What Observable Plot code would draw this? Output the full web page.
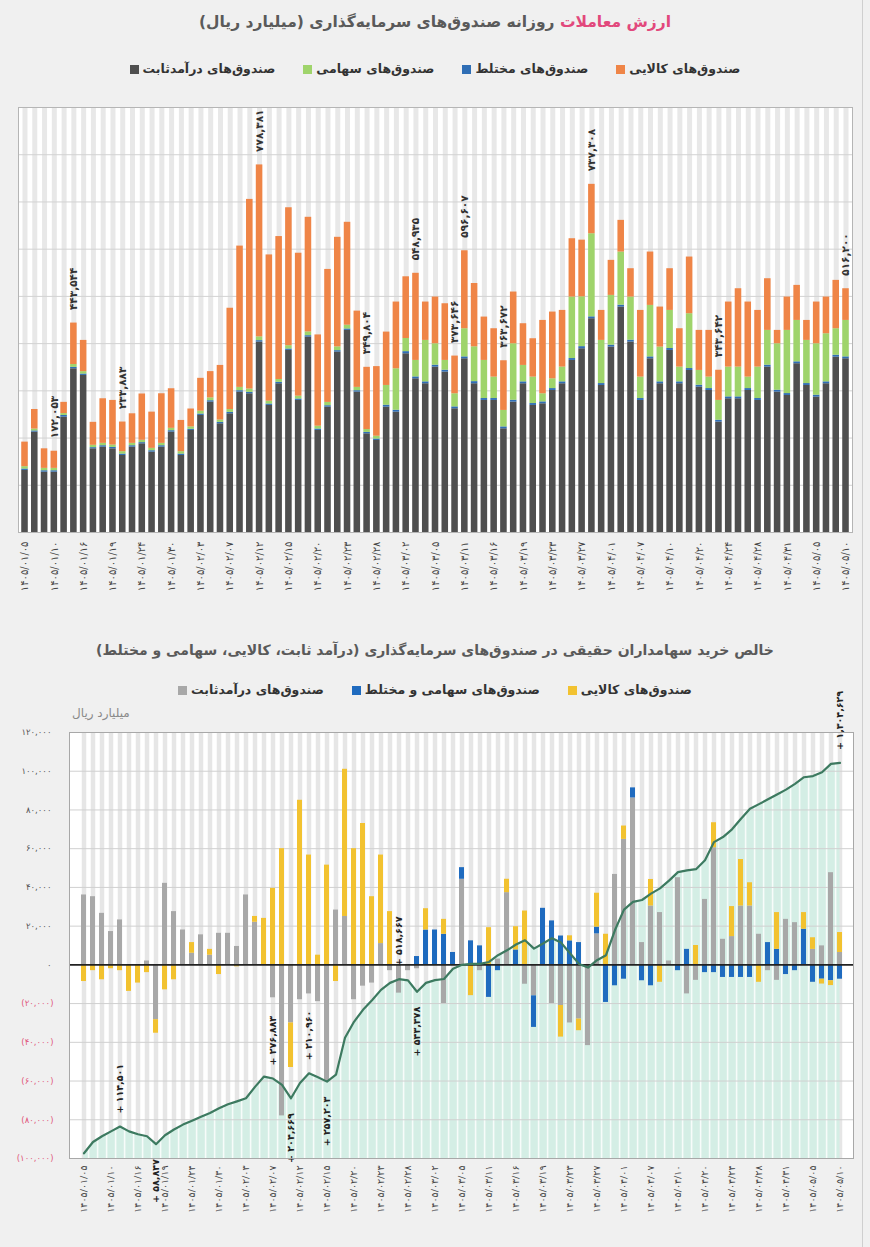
<!DOCTYPE html>
<html><head><meta charset="utf-8">
<script src="https://cdn.jsdelivr.net/npm/d3@7"></script>
<script src="https://cdn.jsdelivr.net/npm/@observablehq/plot@0.6"></script>
<style>
body{margin:0;background:#f0f0f0;font-family:"DejaVu Sans",sans-serif;}
#wrap{position:relative;width:870px;height:1247px;overflow:hidden;background:#f0f0f0;}
.edge{position:absolute;left:862px;top:0;width:1px;height:1247px;background:#cfcfcf;}
.title{position:absolute;left:0;width:870px;text-align:center;direction:rtl;font-weight:bold;color:#5a5a5a;white-space:nowrap;}
.legend{position:absolute;left:0;width:870px;display:flex;justify-content:center;direction:rtl;gap:28px;font-size:12.5px;font-weight:bold;color:#333;line-height:20px;}
.item{display:flex;align-items:center;gap:4px;}
.item i{width:9px;height:9px;display:inline-block;}
.unit{position:absolute;left:72px;top:706px;font-size:12px;color:#8a8a8a;direction:rtl;}
svg.fig{position:absolute;left:0;overflow:visible;}
</style></head>
<body><div id="wrap">
<div class="edge"></div>
<div class="title" style="top:9px;font-size:15.5px;line-height:26px;"><span style="color:#e2487c">ارزش معاملات</span> روزانه صندوق‌های سرمایه‌گذاری (میلیارد ریال)</div>
<div class="legend" style="top:59px;">
  <div class="item"><span>صندوق‌های کالایی</span><i style="background:#ef8547"></i></div>
  <div class="item"><span>صندوق‌های مختلط</span><i style="background:#2f6eb5"></i></div>
  <div class="item"><span>صندوق‌های سهامی</span><i style="background:#9fd46b"></i></div>
  <div class="item"><span>صندوق‌های درآمدثابت</span><i style="background:#4f4f4f"></i></div>
</div>
<div class="title" style="top:638px;font-size:14px;line-height:24px;">خالص خرید سهامداران حقیقی در صندوق‌های سرمایه‌گذاری (درآمد ثابت، کالایی، سهامی و مختلط)</div>
<div class="legend" style="top:680px;">
  <div class="item"><span>صندوق‌های کالایی</span><i style="background:#f2c230"></i></div>
  <div class="item"><span>صندوق‌های سهامی و مختلط</span><i style="background:#1f6bbf"></i></div>
  <div class="item"><span>صندوق‌های درآمدثابت</span><i style="background:#a8a8a8"></i></div>
</div>
<div class="unit">میلیارد ریال</div>
</div>
<script>
// ---------- shared ----------
const dateLabels = ["۱۴۰۵/۰۱/۰۵","۱۴۰۵/۰۱/۱۰","۱۴۰۵/۰۱/۱۶","۱۴۰۵/۰۱/۱۹","۱۴۰۵/۰۱/۲۴","۱۴۰۵/۰۱/۳۰","۱۴۰۵/۰۲/۰۳","۱۴۰۵/۰۲/۰۷","۱۴۰۵/۰۲/۱۲","۱۴۰۵/۰۲/۱۵","۱۴۰۵/۰۲/۲۰","۱۴۰۵/۰۲/۲۳","۱۴۰۵/۰۲/۲۸","۱۴۰۵/۰۳/۰۲","۱۴۰۵/۰۳/۰۵","۱۴۰۵/۰۳/۱۱","۱۴۰۵/۰۳/۱۶","۱۴۰۵/۰۳/۱۹","۱۴۰۵/۰۳/۲۳","۱۴۰۵/۰۳/۲۷","۱۴۰۵/۰۴/۰۱","۱۴۰۵/۰۴/۰۷","۱۴۰۵/۰۴/۱۰","۱۴۰۵/۰۴/۲۰","۱۴۰۵/۰۴/۲۴","۱۴۰۵/۰۴/۲۸","۱۴۰۵/۰۴/۳۱","۱۴۰۵/۰۵/۰۵","۱۴۰۵/۰۵/۱۰"];
const labelEvery = 3;
const dayCount = 85;

// ---------- top chart: daily trading value ----------
const topFixed = [131400,212600,127800,127800,244300,346700,332600,177200,180800,177200,
163100,180800,187800,170200,180800,212600,163100,216100,247900,276100,
230200,251400,297300,293800,403300,269100,315000,385600,279700,413800,
216100,265500,382100,428000,297300,209000,194900,265500,254900,378500,
325500,315000,350300,339700,262000,367900,315000,279700,279700,219600,
276100,315000,269100,272600,300800,315000,364400,389100,452700,311400,
392700,477400,403300,279700,367900,315000,385600,315000,343200,307900,
300800,233800,283200,283200,300800,279700,350300,297300,290200,357400,
311400,286700,315000,371400,367900];
const topMixed = [3000,2500,3000,3000,3500,3000,3000,2500,3000,3000,
3000,3000,2500,3000,3000,3000,3000,2500,3000,3000,
3000,3000,3000,3000,3000,3000,3000,3000,3000,3000,
3000,3000,3000,3000,3000,3000,3000,4000,4000,4500,
4000,4000,4000,4000,4000,4000,4500,4000,4000,4000,
4000,4000,4000,4000,4000,4000,4000,4500,4000,4000,
4000,4000,4000,4000,4000,4000,4000,4000,4000,4000,
4000,4000,4000,4000,4000,4000,4000,4000,4000,4000,
4000,4000,4000,4000,4000];
const topEquity = [5000,4000,5000,5000,4000,6000,5000,5000,5000,5000,
5000,5000,5000,5000,5000,5000,5000,5000,6000,6000,
5000,6000,7000,7000,8000,6000,6000,7000,6000,8000,
6000,7000,8000,8000,7000,6000,6000,41900,87800,27800,
34900,87800,45400,20700,27800,59600,73700,80700,45400,34900,
119600,34800,56000,17200,20700,31300,130200,105500,176000,91400,
105400,112500,91300,45400,109000,73700,80700,31300,116100,31300,
24300,41900,63100,63100,24300,66600,73700,98400,133800,87700,
91400,109000,101900,56100,77200];
const topCommodity = [52000,41400,41400,36300,23800,87800,66200,48600,94400,94500,
62800,62600,98000,76700,105000,83800,66200,37900,69600,55600,
115600,214500,299200,401600,364100,309700,302700,292100,302700,242700,
193300,281600,232000,217900,161500,131800,147400,113000,141300,130700,
184500,81200,98900,120000,79800,165100,134100,91800,102400,105200,
109500,88300,81200,155300,141300,120000,123500,120000,104600,63500,
74200,67100,60000,141200,113000,84700,88300,81200,120000,84800,
98900,63900,137700,165900,158900,120000,109400,28300,70600,74200,
42300,88300,77700,102400,67100];
const topSeries = ["درآمدثابت","مختلط","سهامی","کالایی"];
const topColors = ["#4f4f4f","#2f6eb5","#9fd46b","#ef8547"];
const topGrid = [100000,200000,300000,400000,500000,600000,700000,800000,900000];
const topLabelDays = [3,5,10,24,35,40,44,45,49,58,71,84];
const topLabelText = ["۱۷۲,۰۵۳","۴۴۳,۵۴۴","۲۳۳,۸۸۳","۷۷۸,۳۸۱","۳۴۹,۸۰۴","۵۴۸,۹۳۵","۳۷۳,۶۴۶","۵۹۶,۶۰۷","۳۶۳,۶۷۲","۷۳۷,۳۰۸","۳۴۳,۶۴۲","۵۱۶,۲۰۰"];

// ---------- bottom chart: net retail buying ----------
const botFixed = [36100,35200,26600,17200,23200,0,0,2000,-28300,42100,
27500,18000,6000,15500,5000,16300,16300,9500,36100,22000,
0,-17000,-78000,-30000,-18000,-15000,-19000,-60000,28300,25000,
-18000,-11000,-9400,11000,-3000,-14600,-3000,-2000,0,0,
-20000,0,44200,0,-3000,0,3000,37300,0,-10000,
-16000,0,-20000,-21000,-30000,-28000,-41700,16000,0,46700,
64800,86200,11500,30400,27000,2000,45000,-15000,-8000,33800,
60500,13200,14600,30400,30400,15800,-3000,-8000,23500,21800,
0,8000,9800,47600,6400];
const botEquityMixed = [0,0,0,0,0,0,0,0,0,0,
0,0,0,0,0,0,0,0,0,0,
0,0,0,0,0,0,0,0,0,0,
0,0,0,0,0,0,0,4300,18000,18000,
15800,6400,6000,12400,9800,-16800,-3000,0,7700,0,
-16300,29200,22700,14900,12400,11500,0,3500,-19400,-10800,
-7400,5200,-8200,-10800,0,0,-3000,8000,0,-4000,
-4000,-6500,-6500,-6500,-6500,0,11500,8000,-5000,-3000,
18400,-9000,-7400,-8200,-7400];
const botCommodity = [-8600,-3000,-7700,-2000,-3000,-13700,-9400,-4000,-7000,-12900,
-7700,0,5500,0,3000,-5000,0,-1000,0,3000,
24000,39500,60000,-23000,85000,56700,5000,51500,-8600,76000,
60000,73000,35200,45700,27500,0,0,0,11000,0,
7700,0,0,-15900,0,19200,0,6900,12000,27800,
0,0,0,-16300,2600,-6000,0,17500,15800,0,
6900,0,0,13700,-9000,0,0,0,10000,0,
12900,0,15500,24000,12000,-9000,0,19000,0,0,
8600,6000,-2500,-2500,10300];
const cumLine = [-97300,-91500,-88500,-86000,-83500,-86000,-87500,-88500,-92600,-88000,
-85000,-82500,-80500,-78400,-76500,-74100,-72000,-70500,-68900,-63000,
-57700,-58700,-62000,-68900,-61000,-56000,-58000,-60300,-56700,-37600,
-29400,-23200,-18300,-12900,-9300,-7400,-8000,-13900,-9300,-7900,
-7300,-2000,0,500,500,1500,5000,7500,10500,12700,
8400,11000,13800,11500,6000,500,-1400,2400,5000,18000,
28500,32500,33500,36800,39500,43500,47900,48800,49400,54000,
63400,66000,70000,75500,80600,83000,85500,88000,90500,93500,
96900,97500,99500,103800,104300];
const botSeries = ["درآمدثابت","سهامی و مختلط","کالایی"];
const botColors = ["#a8a8a8","#1f6bbf","#f2c230"];
const botTickValues = [120000,100000,80000,60000,40000,20000,0,-20000,-40000,-60000,-80000,-100000];
const botTickLabels = ["۱۲۰,۰۰۰","۱۰۰,۰۰۰","۸۰,۰۰۰","۶۰,۰۰۰","۴۰,۰۰۰","۲۰,۰۰۰","۰","(۲۰,۰۰۰)","(۴۰,۰۰۰)","(۶۰,۰۰۰)","(۸۰,۰۰۰)","(۱۰۰,۰۰۰)"];
const botAnnDays = [4,8,21,23,25,27,35,37,84];
const botAnnText = ["+ ۱۱۴,۵۰۱","+ ۵۸,۸۴۷","+ ۲۷۶,۸۸۳","+ ۲۰۴,۶۶۹","+ ۲۱۰,۹۶۰","+ ۲۵۷,۲۰۳","+ ۵۱۸,۶۶۷","+ ۵۴۳,۳۷۸","+ ۱,۳۰۴,۶۲۹"];
const botAnnSide = ["up","down","up","down","up","down","up","down","up"];

// ---------- build tables ----------
const days = d3.range(dayCount);
const tickDays = days.filter(d => d % labelEvery === 0);
const tickFmt = d => dateLabels[d / labelEvery];

const topRows = days.flatMap(i => [
  {i, s: topSeries[0], v: topFixed[i]},
  {i, s: topSeries[1], v: topMixed[i]},
  {i, s: topSeries[2], v: topEquity[i]},
  {i, s: topSeries[3], v: topCommodity[i]}
]);
const topTotal = days.map(i => topFixed[i] + topMixed[i] + topEquity[i] + topCommodity[i]);
const topLabels = topLabelDays.map((i, k) => ({i, y: topTotal[i], t: topLabelText[k]}));

const botRows = days.flatMap(i => [
  {i, s: botSeries[0], v: botFixed[i]},
  {i, s: botSeries[1], v: botEquityMixed[i]},
  {i, s: botSeries[2], v: botCommodity[i]}
]);
const botLabels = botAnnDays.map((i, k) => ({i, y: cumLine[i], t: botAnnText[k], side: botAnnSide[k]}));
const tickLabelMap = new Map(botTickValues.map((v, k) => [v, botTickLabels[k]]));
const font = "DejaVu Sans";

const topChart = Plot.plot({
  width: 870, height: 530,
  marginTop: 12, marginBottom: 93, marginLeft: 18, marginRight: 18,
  style: {background: "transparent", fontFamily: font, overflow: "visible"},
  x: {type: "band", domain: days, padding: 0.33, axis: null, label: null},
  y: {domain: [0, 900000], axis: null, label: null},
  color: {domain: topSeries, range: topColors},
  marks: [
    Plot.frame({fill: "white", stroke: null}),
    Plot.ruleX(days, {x: d => d, stroke: "#e8e8e8", strokeWidth: 5}),
    Plot.ruleY(topGrid, {stroke: "#d2d2d2", strokeWidth: 1}),
    Plot.barY(topRows, {x: "i", y: "v", fill: "s"}),
    Plot.text(topLabels, {x: "i", y: "y", text: "t", rotate: -90, textAnchor: "start", dy: -13, fontSize: 10.5, fontWeight: "bold", fill: "#333"}),
    Plot.axisX(tickDays, {tickFormat: tickFmt, tickRotate: -90, tickSize: 0, tickPadding: 9, fontSize: 10, fill: "#444", label: null}),
    Plot.frame({stroke: "#b5b5b5"})
  ]
});
topChart.classList.add("fig");
topChart.style.top = "95px";
document.getElementById("wrap").appendChild(topChart);

const bottomChart = Plot.plot({
  width: 870, height: 522,
  marginTop: 7, marginBottom: 89, marginLeft: 69, marginRight: 17,
  style: {background: "transparent", fontFamily: font, overflow: "visible"},
  x: {type: "band", domain: days, padding: 0.45, axis: null, label: null},
  y: {domain: [-100000, 120000], axis: null, label: null},
  color: {domain: botSeries, range: botColors},
  marks: [
    Plot.frame({fill: "white", stroke: null}),
    Plot.ruleX(days, {x: d => d, stroke: "#e6e6e6", strokeWidth: 4.5}),
    Plot.areaY(days, {x: d => d, y1: () => -100000, y2: d => cumLine[d], fill: "#d4eee5"}),
    Plot.ruleX(days, {x: d => d, dx: 4.6, stroke: "white", strokeWidth: 1.6, strokeOpacity: 0.8}),
    Plot.ruleY(botTickValues.filter(v => v !== 0), {stroke: "#d0d0d0", strokeWidth: 1}),
    Plot.barY(botRows, {x: "i", y: "v", fill: "s"}),
    Plot.ruleY([0], {stroke: "#222", strokeWidth: 1.6}),
    Plot.lineY(days, {x: d => d, y: d => cumLine[d], stroke: "#3d7a60", strokeWidth: 2.2}),
    Plot.text(botLabels.filter(d => d.side === "up"), {x: "i", y: "y", text: "t", rotate: -90, textAnchor: "start", dy: -13, fontSize: 9.5, fontWeight: "bold", fill: "#222"}),
    Plot.text(botLabels.filter(d => d.side === "down"), {x: "i", y: "y", text: "t", rotate: -90, textAnchor: "end", dy: 15, fontSize: 9.5, fontWeight: "bold", fill: "#222"}),
    Plot.axisY(botTickValues.filter(v => v >= 0), {tickFormat: v => tickLabelMap.get(v), tickSize: 0, tickPadding: 18, fontSize: 8.5, color: "#555", label: null}),
    Plot.axisY(botTickValues.filter(v => v < 0), {tickFormat: v => tickLabelMap.get(v), tickSize: 0, tickPadding: 16, fontSize: 8.5, color: "#e0577c", label: null}),
    Plot.axisX(tickDays, {tickFormat: tickFmt, tickRotate: -90, tickSize: 0, tickPadding: 7, fontSize: 9.5, fill: "#444", label: null}),
    Plot.frame({stroke: "#a8a8a8"})
  ]
});
bottomChart.classList.add("fig");
bottomChart.style.top = "725px";
document.getElementById("wrap").appendChild(bottomChart);
</script>
</body></html>
